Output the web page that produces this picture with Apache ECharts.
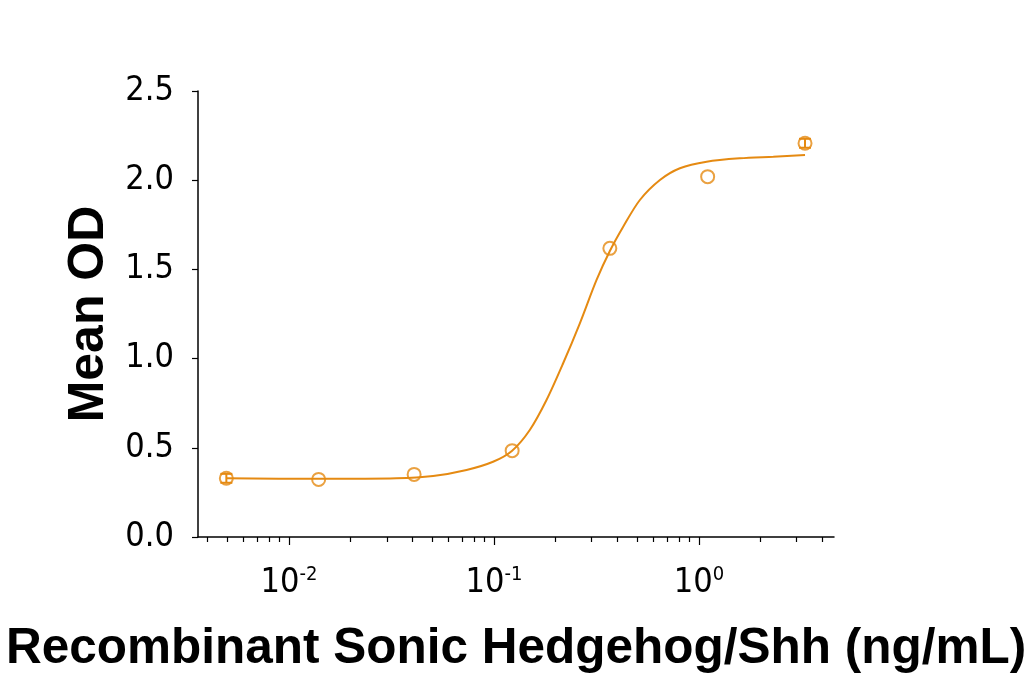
<!DOCTYPE html>
<html>
<head>
<meta charset="utf-8">
<script src="https://cdn.jsdelivr.net/npm/echarts@6/dist/echarts.min.js"></script>
<style>
html,body{margin:0;padding:0;background:#fff;}
#chart{width:1033px;height:686px;}
</style>
</head>
<body>
<div id="chart"></div>
<script>
// Measured points (concentration in ng/mL, mean OD, error)
const pointConc = [0.00495, 0.01396, 0.0408, 0.1227, 0.3677, 1.103, 3.293];
const pointOD   = [0.329, 0.323, 0.351, 0.484, 1.618, 2.020, 2.207];
const pointErr  = [0.025, 0.0, 0.0, 0.0, 0.0, 0.0, 0.025];

// Fitted curve
const curveConc = [0.00495, 0.01396, 0.03344, 0.0505, 0.0735, 0.0990, 0.1227, 0.1496, 0.1805, 0.2176, 0.2625, 0.3167, 0.3677, 0.4271, 0.5152, 0.6452, 0.8077, 1.0905, 1.585, 2.305, 3.293];
const curveOD   = [0.329, 0.326, 0.329, 0.342, 0.376, 0.422, 0.484, 0.600, 0.768, 0.974, 1.198, 1.441, 1.603, 1.739, 1.889, 2.001, 2.067, 2.104, 2.123, 2.132, 2.141];

// Axis ticks
const xMajorTicks = [0.01, 0.1, 1];
const xMinorTicks = [0.004, 0.005, 0.006, 0.007, 0.008, 0.009, 0.02, 0.03, 0.04, 0.05, 0.06, 0.07, 0.08, 0.09, 0.2, 0.3, 0.4, 0.5, 0.6, 0.7, 0.8, 0.9, 2, 3, 4];
const yTicks = [0, 0.5, 1.0, 1.5, 2.0, 2.5];

const xTitle = 'Recombinant Sonic Hedgehog/Shh (ng/mL)';
const yTitle = 'Mean OD';

const ORANGE = '#E58A12';
const NARROW = '"Liberation Sans Narrow", "DejaVu Sans Condensed", "Liberation Sans", sans-serif';
const BOLD = '"Liberation Sans", Arial, "DejaVu Sans", sans-serif';

const xMin = 0.0036, xMax = 4.56;

const chart = echarts.init(document.getElementById('chart'), null, {renderer: 'canvas'});

const option = {
  backgroundColor: '#ffffff',
  animation: false,
  grid: {left: 198, top: 91, right: 199, bottom: 149, containLabel: false, outerBoundsMode: 'none'},
  xAxis: [
    {
      type: 'log', logBase: 10, min: xMin, max: xMax,
      name: xTitle, nameLocation: 'middle', nameGap: 87,
      nameTextStyle: {fontFamily: BOLD, fontWeight: 'bold', fontSize: 49.5, color: '#000'},
      axisLine: {show: true, onZero: false, lineStyle: {color: '#000', width: 1.5}},
      axisTick: {show: true, inside: false, length: 8, customValues: xMajorTicks, lineStyle: {color: '#000', width: 1.2}},
      minorTick: {show: false},
      splitLine: {show: false},
      axisLabel: {
        show: true, margin: 28, customValues: xMajorTicks,
        formatter: function (v) {
          const e = Math.round(Math.log10(v));
          return '{b|10}{s|' + e + '}';
        },
        rich: {
          b: {fontFamily: NARROW, fontSize: 34, color: '#000', lineHeight: 36},
          s: {fontFamily: NARROW, fontSize: 20, color: '#000', verticalAlign: 'top', lineHeight: 20}
        }
      }
    },
    {
      type: 'log', logBase: 10, min: xMin, max: xMax, position: 'bottom',
      axisLine: {show: false},
      axisTick: {show: true, inside: false, length: 5, customValues: xMinorTicks, lineStyle: {color: '#000', width: 1.2}},
      axisLabel: {show: false},
      splitLine: {show: false}
    }
  ],
  yAxis: {
    type: 'value', min: 0, max: 2.5, interval: 0.5,
    name: yTitle, nameLocation: 'middle', nameGap: 80, nameRotate: 90,
    nameTextStyle: {fontFamily: BOLD, fontWeight: 'bold', fontSize: 50, color: '#000'},
    axisLine: {show: true, onZero: false, lineStyle: {color: '#000', width: 1.5}},
    axisTick: {show: true, inside: false, length: 6, customValues: yTicks, lineStyle: {color: '#000', width: 1.2}},
    splitLine: {show: false},
    axisLabel: {
      margin: 24, customValues: yTicks,
      formatter: function (v) { return v.toFixed(1); },
      fontFamily: NARROW, fontSize: 34, color: '#000'
    }
  },
  series: [
    {
      type: 'line', name: 'fit', xAxisIndex: 0,
      data: curveConc.map((c, i) => [c, curveOD[i]]),
      smooth: 0.3, showSymbol: false, symbol: 'none',
      lineStyle: {color: ORANGE, width: 2}, z: 2
    },
    {
      type: 'custom', name: 'err', xAxisIndex: 0,
      data: pointConc.map((c, i) => [c, pointOD[i], pointErr[i]]),
      renderItem: function (params, api) {
        const x = api.value(0), y = api.value(1), e = api.value(2);
        if (!e) return null;
        const top = api.coord([x, y + e]);
        const bot = api.coord([x, y - e]);
        const hw = 6;
        const st = {stroke: ORANGE, lineWidth: 2};
        return {
          type: 'group',
          children: [
            {type: 'line', shape: {x1: top[0], y1: top[1], x2: bot[0], y2: bot[1]}, style: st},
            {type: 'line', shape: {x1: top[0] - hw, y1: top[1], x2: top[0] + hw, y2: top[1]}, style: st},
            {type: 'line', shape: {x1: bot[0] - hw, y1: bot[1], x2: bot[0] + hw, y2: bot[1]}, style: st}
          ]
        };
      },
      z: 3
    },
    {
      type: 'scatter', name: 'points', xAxisIndex: 0,
      data: pointConc.map((c, i) => [c, pointOD[i]]),
      symbol: 'circle', symbolSize: 13,
      itemStyle: {color: 'rgba(0,0,0,0)', borderColor: ORANGE, borderWidth: 2},
      emphasis: {disabled: true},
      z: 4
    }
  ]
};

chart.setOption(option);
</script>
</body>
</html>
